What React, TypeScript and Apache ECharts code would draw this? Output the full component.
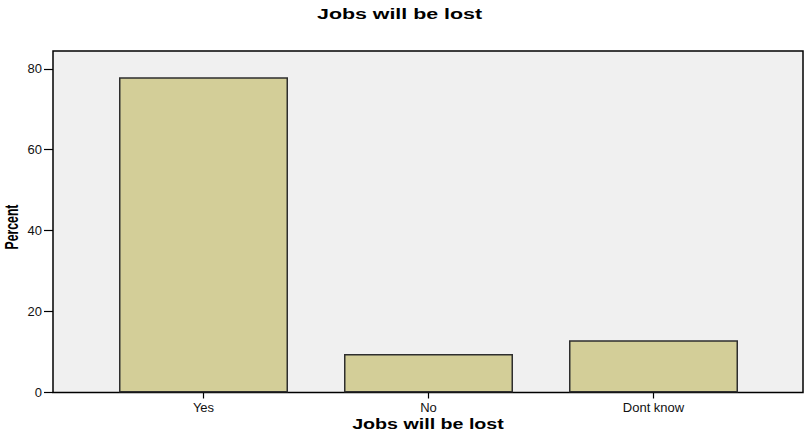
import React, { useEffect, useRef } from "react";
import * as echarts from "echarts";

const categories: string[] = ["Yes", "No", "Dont know"];
const percentValues: number[] = [77.9, 9.5, 12.9];
const yTickValues: number[] = [0, 20, 40, 60, 80];
const chartTitle = "Jobs will be lost";
const xAxisTitle = "Jobs will be lost";
const yAxisTitle = "Percent";

export default function App() {
  const ref = useRef<HTMLDivElement | null>(null);

  useEffect(() => {
    if (!ref.current) return;
    const chart = echarts.init(ref.current, null, { renderer: "svg" });
    const font = "'Liberation Sans', Arial, Helvetica, sans-serif";
    chart.setOption({
      animation: false,
      backgroundColor: "#ffffff",
      textStyle: { fontFamily: font },
      grid: [
        {
          left: 53,
          top: 51,
          width: 750,
          height: 341.5,
          show: true,
          backgroundColor: "#f0f0f0",
          borderColor: "#000000",
          borderWidth: 1.5,
        },
        { left: 91, top: 51, width: 675, height: 341.5 },
      ],
      xAxis: [
        { gridIndex: 0, type: "value", show: false, min: 0, max: 1 },
        {
          gridIndex: 1,
          type: "category",
          data: categories,
          axisLine: { show: false },
          axisTick: { show: true, alignWithLabel: true, length: 6, lineStyle: { color: "#000", width: 1.2 } },
          axisLabel: { color: "#111", fontSize: 13, margin: 8, fontFamily: font },
          splitLine: { show: false },
        },
      ],
      yAxis: [
        { gridIndex: 0, type: "value", show: false, min: 0, max: 1 },
        {
          gridIndex: 1,
          type: "value",
          min: 0,
          max: 84.4,
          interval: 20,
          offset: 38,
          axisLine: { show: false },
          axisTick: {
            show: true,
            length: 9,
            customValues: yTickValues,
            lineStyle: { color: "#000", width: 1.2 },
          },
          axisLabel: {
            color: "#111",
            fontSize: 13,
            margin: 11,
            customValues: yTickValues,
            fontFamily: font,
          },
          splitLine: { show: false },
        },
      ],
      series: [
        {
          type: "bar",
          xAxisIndex: 1,
          yAxisIndex: 1,
          data: percentValues,
          barWidth: 169,
          itemStyle: { color: "#d3ce98", borderColor: "#2e2e2e", borderWidth: 1.5 },
        },
      ],
      graphic: [
        {
          type: "text",
          x: 399.5,
          y: 13.5,
          scaleX: 1.38,
          style: {
            text: chartTitle,
            fill: "#000",
            font: `bold 15.5px ${font}`,
            align: "center",
            verticalAlign: "middle",
          },
        },
        {
          type: "text",
          x: 428,
          y: 424,
          scaleX: 1.31,
          style: {
            text: xAxisTitle,
            fill: "#000",
            font: `bold 15px ${font}`,
            align: "center",
            verticalAlign: "middle",
          },
        },
        {
          type: "text",
          x: 12,
          y: 227,
          rotation: Math.PI / 2,
          scaleX: 0.68,
          style: {
            text: yAxisTitle,
            fill: "#000",
            font: `bold 18px ${font}`,
            align: "center",
            verticalAlign: "middle",
          },
        },
      ],
    });
    return () => chart.dispose();
  }, []);

  return (
    <div
      ref={ref}
      style={{ position: "absolute", left: 0, top: 0, width: 805, height: 433 }}
    />
  );
}
